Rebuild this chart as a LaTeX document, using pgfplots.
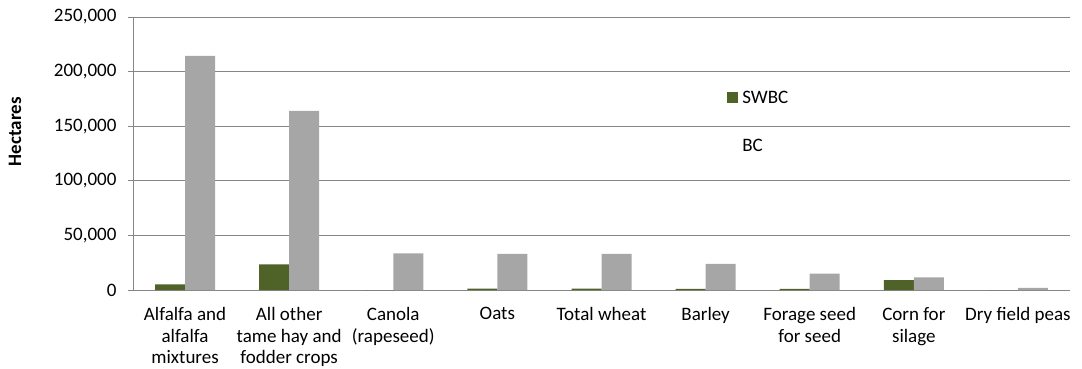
\documentclass[border=0pt]{standalone}
\usepackage{pgfplots}
\pgfplotsset{compat=1.18}
\usepackage{fontspec}
\setmainfont{Carlito}

\definecolor{swbc}{RGB}{79,98,40}
\definecolor{bcgrey}{RGB}{166,166,166}
\definecolor{gridgrey}{RGB}{134,134,134}

% Crop areas (hectares), South West BC against all of BC
\pgfplotstableread{
idx swbc bc
0 5200 214500
1 23500 164000
2 0 33500
3 1300 33000
4 1200 33000
5 1100 24000
6 1000 15000
7 9000 11500
8 0 2000
}\croptable

\begin{document}
\begin{tikzpicture}[x=1pt,y=1pt]
\path[use as bounding box] (-133,-78) rectangle (949,290);
\begin{axis}[
  at={(0,0)}, anchor=south west,
  scale only axis, width=937pt, height=273pt,
  ybar=0pt, bar width=30pt,
  xmin=-0.5, xmax=8.5, ymin=0, ymax=250000,
  scaled y ticks=false,
  axis x line=bottom, axis y line=left,
  axis line style={gridgrey, line width=0.9pt, -},
  ymajorgrids, grid style={gridgrey, line width=0.9pt},
  tick align=outside,
  major tick length=5pt, minor tick length=5pt,
  tick style={gridgrey, line width=0.9pt},
  xtick={0,...,8}, x tick style={draw=none},
  minor xtick={-0.5,0.5,...,8.5},
  xticklabels={{Alfalfa and\\alfalfa\\mixtures},{All other\\tame hay and\\fodder crops},{Canola\\(rapeseed)},{Oats},{Total wheat},{Barley},{Forage seed\\for seed},{Corn for\\silage},{Dry field peas}},
  xticklabel style={align=center, anchor=north, yshift=-9pt},
  ytick={0,50000,100000,150000,200000,250000},
  yticklabels={0,{50,000},{100,000},{150,000},{200,000},{250,000}},
  yticklabel style={xshift=-8pt},
  every tick label/.append style={font=\fontsize{19}{21.5}\selectfont, text=black},
  ylabel={\textbf{Hectares}},
  every axis y label/.style={at={(axis description cs:0,0.58)}, xshift=-118pt, rotate=90, anchor=center, font=\fontsize{19}{22}\selectfont},
  legend style={at={(axis description cs:0.634,0.738)}, anchor=north west, draw=none, fill=none,
    font=\fontsize{19}{22}\selectfont, row sep=31pt, inner sep=0pt,
    nodes={inner xsep=4pt}},
  legend cell align=left,
  legend image code/.code={\fill[#1,draw=none] (0pt,-5.5pt) rectangle (11pt,5.5pt);},
]
\addplot[fill=swbc, draw=none] table[x=idx, y=swbc] {\croptable};
\addlegendentry{SWBC}
\addplot[fill=bcgrey, draw=none, legend image code/.code={}] table[x=idx, y=bc] {\croptable};
\addlegendentry{BC}
\end{axis}
\end{tikzpicture}
\end{document}
